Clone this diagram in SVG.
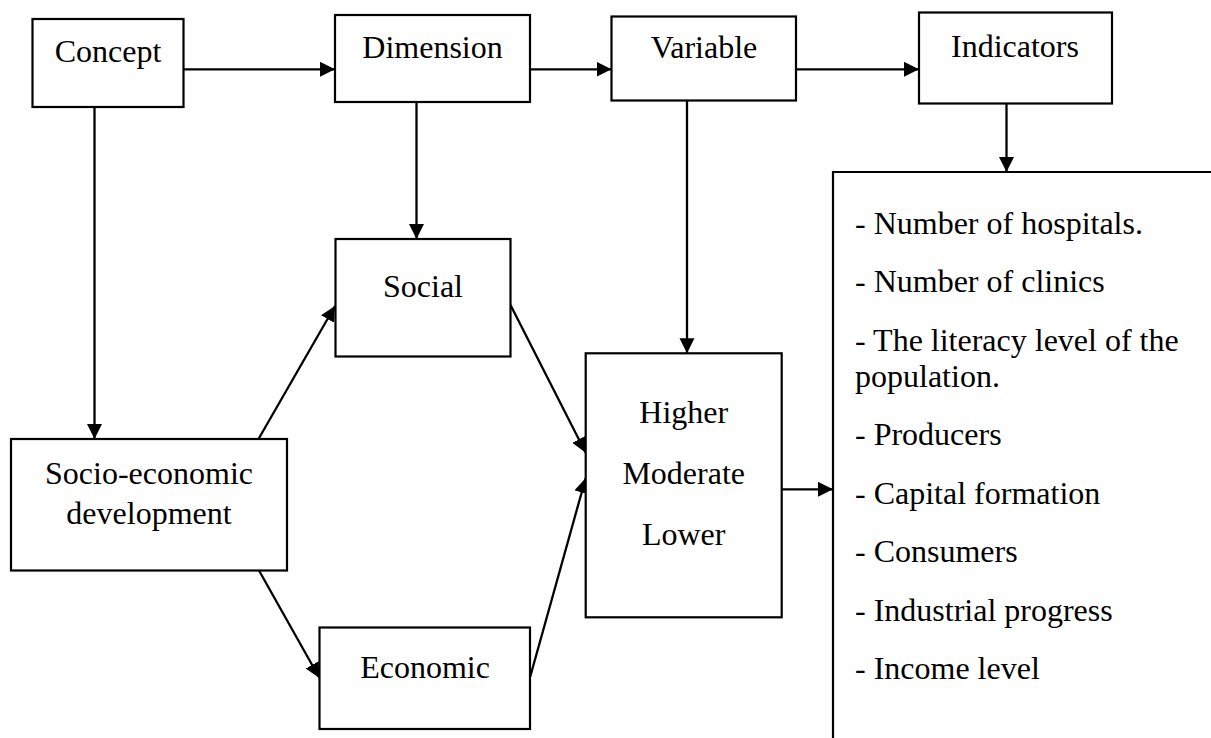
<svg xmlns="http://www.w3.org/2000/svg" width="1211" height="738" viewBox="0 0 1211 738">
<style>
.box{fill:#fff;stroke:#000;stroke-width:2.2}
.t{font-family:"Liberation Serif","Times New Roman",serif;font-size:32px;fill:#000}
.c{text-anchor:middle}
.ln{fill:none;stroke:#000;stroke-width:2.3;marker-end:url(#ah)}
</style>
<defs>
<marker id="ah" markerUnits="userSpaceOnUse" markerWidth="16" markerHeight="16" refX="15" refY="7.5" orient="auto">
<path d="M0,0 L15,7.5 L0,15 Z" fill="#000"/>
</marker>
</defs>
<rect width="1211" height="738" fill="#fff"/>
<g id="connectors">
<line class="ln" x1="183.5" y1="69.3" x2="335" y2="69.3"/>
<line class="ln" x1="530" y1="69.3" x2="611.5" y2="69.3"/>
<line class="ln" x1="796" y1="69.3" x2="919" y2="69.3"/>
<line class="ln" x1="1006.5" y1="103.5" x2="1006.5" y2="172"/>
<line class="ln" x1="94.5" y1="107" x2="94.5" y2="439"/>
<line class="ln" x1="416.5" y1="102" x2="416.5" y2="239"/>
<line class="ln" x1="687" y1="100.5" x2="687" y2="353.3"/>
<line class="ln" x1="258.5" y1="439" x2="335" y2="306"/>
<line class="ln" x1="259" y1="570.5" x2="319.5" y2="678"/>
<line class="ln" x1="510.5" y1="305" x2="585.7" y2="452.7"/>
<line class="ln" x1="530.2" y1="676.7" x2="585.7" y2="478"/>
<line class="ln" x1="781.7" y1="489.3" x2="833" y2="489.3"/>
</g>
<g id="concept">
<rect class="box" x="32.5" y="19" width="151" height="88"/>
<text class="t c" x="108" y="62">Concept</text>
</g>
<g id="dimension">
<rect class="box" x="335" y="15" width="195" height="87"/>
<text class="t c" x="432.5" y="58">Dimension</text>
</g>
<g id="variable">
<rect class="box" x="611.5" y="16.5" width="184.5" height="84"/>
<text class="t c" x="704" y="58">Variable</text>
</g>
<g id="indicators">
<rect class="box" x="919" y="12.5" width="193" height="91"/>
<text class="t c" x="1015" y="57">Indicators</text>
</g>
<g id="social">
<rect class="box" x="335.5" y="239" width="175" height="117.5"/>
<text class="t c" x="423" y="296.5">Social</text>
</g>
<g id="socio-economic">
<rect class="box" x="11" y="439" width="276" height="131.5"/>
<text class="t c" x="149" y="484">Socio-economic</text>
<text class="t c" x="149" y="524.3">development</text>
</g>
<g id="economic">
<rect class="box" x="319.5" y="627.5" width="210.5" height="101.5"/>
<text class="t c" x="425" y="677.5">Economic</text>
</g>
<g id="levels">
<rect class="box" x="585.7" y="353.3" width="196" height="264"/>
<text class="t c" x="683.7" y="423.3">Higher</text>
<text class="t c" x="683.7" y="484.3">Moderate</text>
<text class="t c" x="683.7" y="545">Lower</text>
</g>
<g id="indicator-list">
<path d="M1212,172 H833 V740" fill="#fff" stroke="#000" stroke-width="2.2"/>
<text class="t" x="855" y="233.5">- Number of hospitals.</text>
<text class="t" x="855" y="292">- Number of clinics</text>
<text class="t" x="855" y="350.5">- The literacy level of the</text>
<text class="t" x="855" y="387">population.</text>
<text class="t" x="855" y="445">- Producers</text>
<text class="t" x="855" y="504">- Capital formation</text>
<text class="t" x="855" y="562">- Consumers</text>
<text class="t" x="855" y="620.5">- Industrial progress</text>
<text class="t" x="855" y="679">- Income level</text>
</g>
</svg>
